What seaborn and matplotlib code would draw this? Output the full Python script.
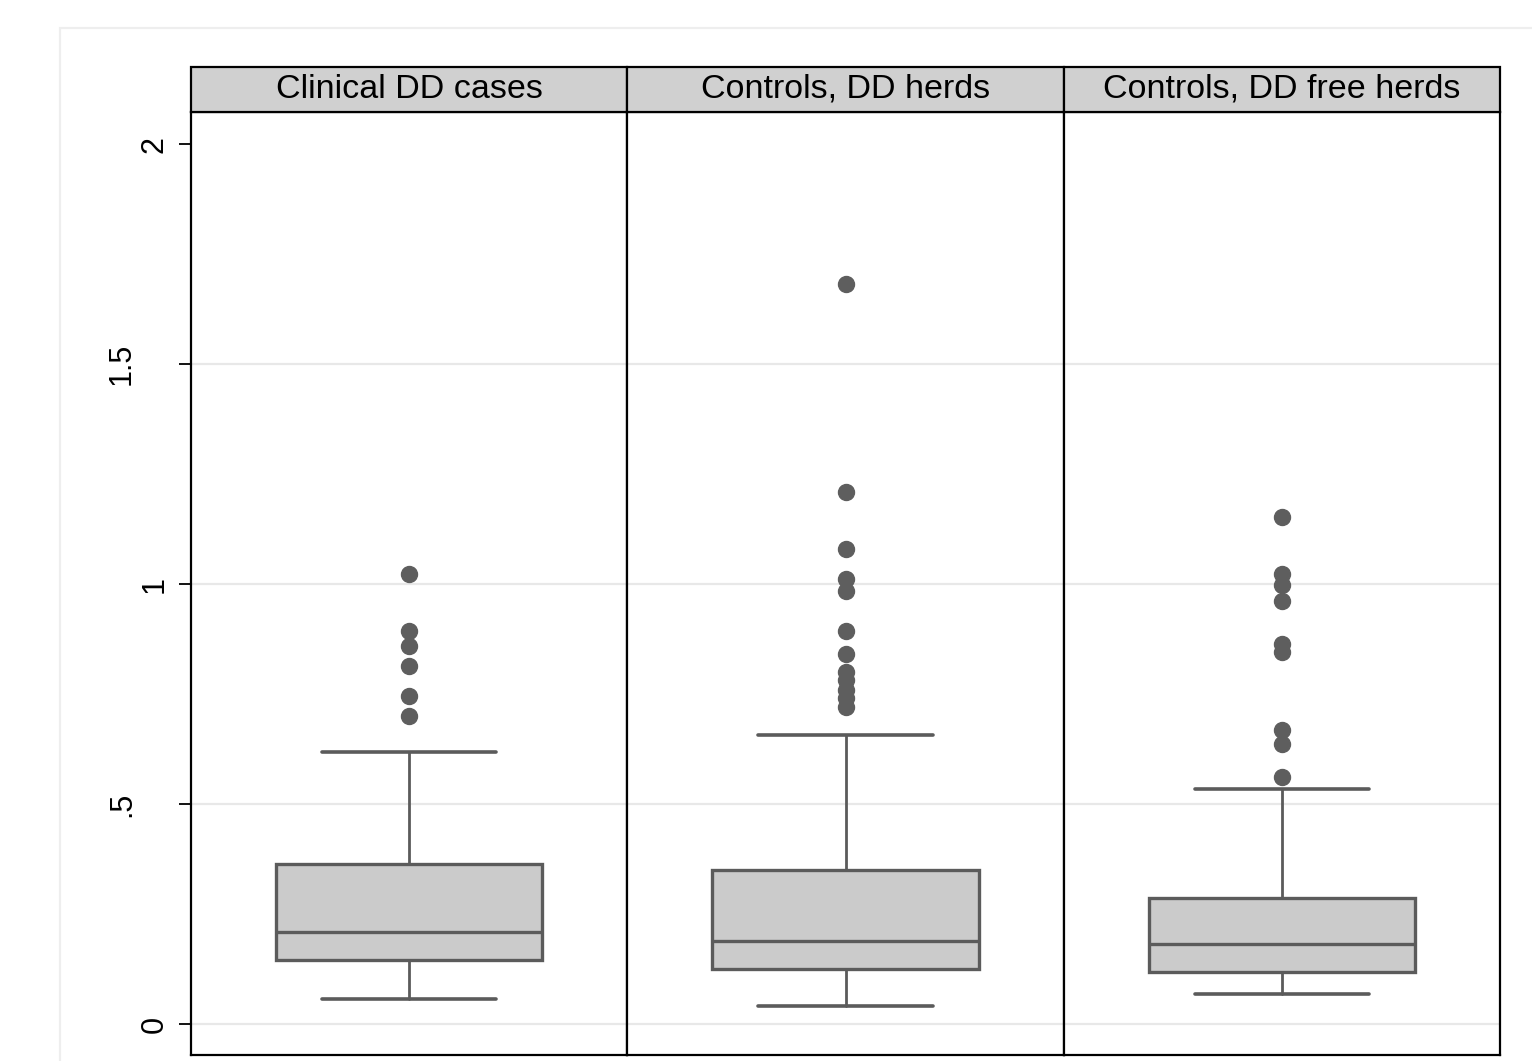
import numpy as np
import pandas as pd
import seaborn as sns
import matplotlib
matplotlib.use("Agg")
import matplotlib.pyplot as plt
import matplotlib.transforms as mtransforms
from matplotlib.patches import Rectangle

# Groups (panels)
groups = ["Clinical DD cases", "Controls, DD herds", "Controls, DD free herds"]

# Box summary statistics per group
whisker_low = [0.057, 0.041, 0.068]
q1 = [0.145, 0.125, 0.118]
median = [0.209, 0.189, 0.182]
q3 = [0.364, 0.350, 0.286]
whisker_high = [0.619, 0.658, 0.534]

# Outlying observations per group
outliers_cases = [1.023, 0.893, 0.859, 0.814, 0.745, 0.700]
outliers_dd_herds = [1.682, 1.209, 1.080, 1.011, 0.984, 0.893, 0.841,
                     0.800, 0.782, 0.759, 0.741, 0.720]
outliers_free_herds = [1.152, 1.023, 0.998, 0.961, 0.864, 0.845,
                       0.668, 0.636, 0.561]
outliers = [outliers_cases, outliers_dd_herds, outliers_free_herds]

# Axis ticks
ytick_values = [0, 0.5, 1, 1.5, 2]
ytick_labels = ["0", ".5", "1", "1.5", "2"]
grid_values = [0, 0.5, 1, 1.5]

df = pd.DataFrame({
    "group": groups,
    "whislo": whisker_low,
    "q1": q1,
    "med": median,
    "q3": q3,
    "whishi": whisker_high,
})
df["fliers"] = outliers

sns.set_theme(style="white")
plt.rcParams["font.family"] = ["Liberation Sans", "DejaVu Sans"]

W, H = 1532, 1061
g = sns.FacetGrid(df, col="group", col_order=groups, sharey=True,
                  despine=False, height=H / 100, aspect=1.0 / 3)
fig = g.figure

line_col = "#5b5b5b"
box_fill = "#cbcbcb"
strip_fill = "#d0d0d0"


def draw_box(data, **kws):
    ax = plt.gca()
    row = data.iloc[0]
    stats = [{
        "whislo": row["whislo"], "q1": row["q1"], "med": row["med"],
        "q3": row["q3"], "whishi": row["whishi"], "fliers": row["fliers"],
    }]
    for yv in grid_values:
        ax.axhline(yv, color="#e8e8e8", lw=1.6, zorder=0)
    ax.bxp(stats, positions=[0.5], widths=0.61, capwidths=0.40,
           patch_artist=True, showfliers=True,
           boxprops=dict(facecolor=box_fill, edgecolor=line_col, linewidth=2.4),
           medianprops=dict(color=line_col, linewidth=2.4),
           whiskerprops=dict(color=line_col, linewidth=2.0),
           capprops=dict(color=line_col, linewidth=2.6),
           flierprops=dict(marker="o", markerfacecolor="#5e5e5e",
                           markeredgecolor="#5e5e5e", markersize=11.5,
                           linestyle="none"),
           zorder=3)


g.map_dataframe(draw_box)
g.set_titles("")

strip_h = 45 / (1055 - 112)
for i, (ax, name) in enumerate(zip(g.axes.flat, groups)):
    ax.set_xlim(0, 1)
    ax.set_ylim(-0.0705, 2.073)
    ax.set_xticks([])
    ax.set_xlabel("")
    ax.set_ylabel("")
    ax.grid(False)
    for sp in ax.spines.values():
        sp.set_color("black")
        sp.set_linewidth(1.6)
    ax.add_patch(Rectangle((0, 1), 1, strip_h, transform=ax.transAxes,
                           facecolor=strip_fill, edgecolor="black",
                           linewidth=1.6, clip_on=False, zorder=5))
    ax.text(0.5, 1 + strip_h / 2, name, transform=ax.transAxes,
            ha="center", va="center", fontsize=24.5, color="black",
            zorder=6)
    if i == 0:
        ax.set_yticks(ytick_values)
        ax.tick_params(axis="y", direction="out", length=9, width=1.3,
                       color="black", left=True, labelleft=False)
        # Rotated value labels; decimal labels sit further out
        trans = mtransforms.blended_transform_factory(ax.transAxes, ax.transData)
        for yv, lab in zip(ytick_values, ytick_labels):
            xoff = -0.158 if "." in lab else -0.0826
            ax.text(xoff, yv, lab, transform=trans, rotation=90,
                    ha="center", va="center", fontsize=22, color="black",
                    clip_on=False)
    else:
        ax.tick_params(axis="y", left=False, labelleft=False)

# Final figure geometry (after the grid's own layout pass)
fig.set_size_inches(W / 100, H / 100)
fig.set_dpi(100)
fig.subplots_adjust(left=191 / W, right=1500 / W,
                    bottom=1 - 1055 / H, top=1 - 112 / H, wspace=0)

# Light frame around the plot region
fig.add_artist(Rectangle((60 / W, -0.05), 1.2, (1 - 28 / H) + 0.05,
                         transform=fig.transFigure, fill=False,
                         edgecolor="#eeeeee", linewidth=1.6, zorder=0))

fig.savefig("out.png", dpi=100, facecolor="white")
